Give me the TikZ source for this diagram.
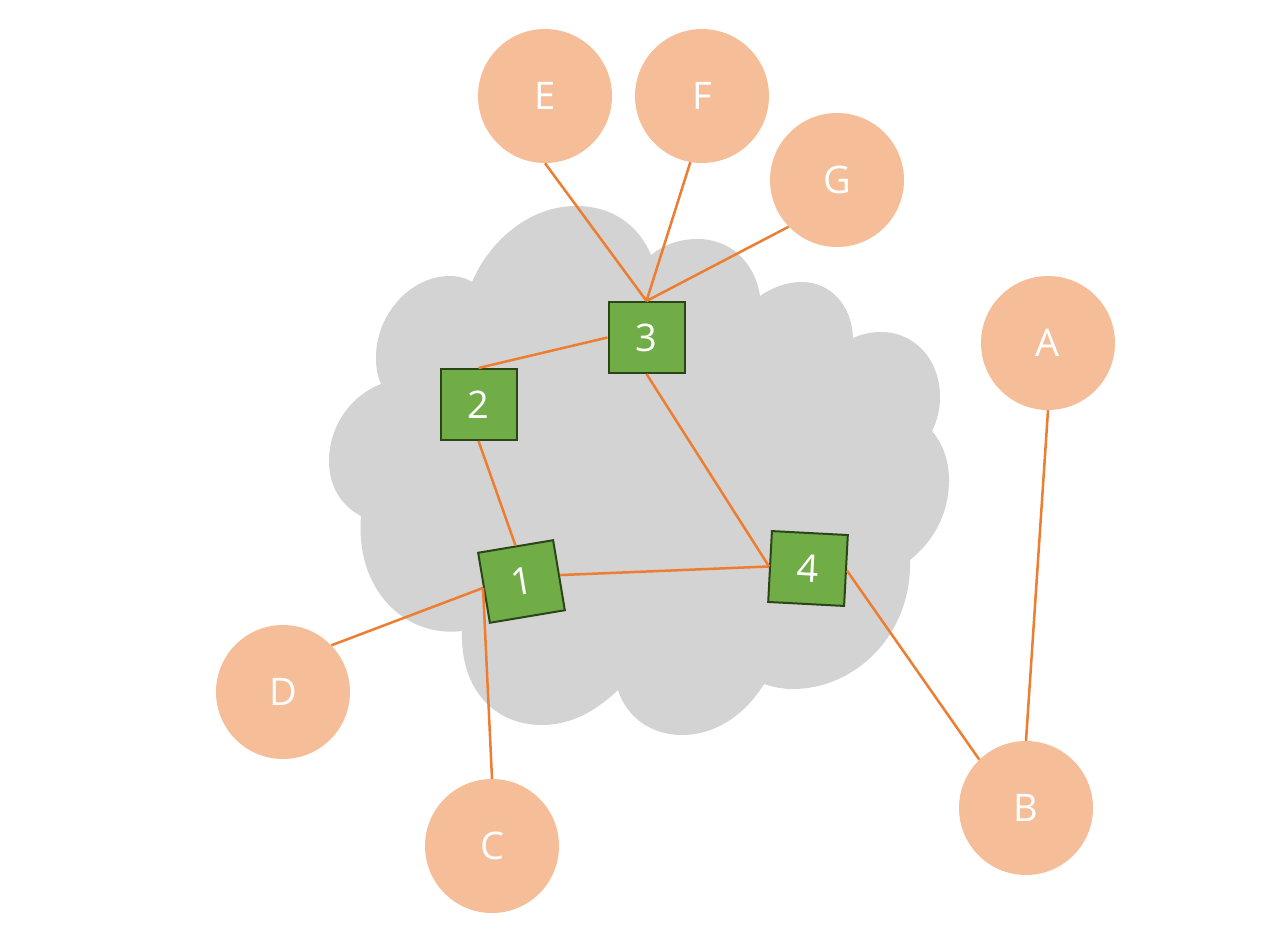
\documentclass[tikz,border=0pt]{standalone}
\usepackage{fontspec}
\setmainfont{Open Sans}
\definecolor{peach}{HTML}{F6BE98}
\definecolor{leaf}{HTML}{70AD47}
\definecolor{leafdark}{HTML}{2B4519}
\definecolor{wire}{HTML}{ED7D31}
\definecolor{cloudgray}{HTML}{D3D3D3}
\tikzset{
  host/.style={circle, fill=peach, minimum size=134pt, inner sep=0pt, text=white, font=\fontsize{38}{38}\selectfont},
  router/.style={rectangle, fill=leaf, draw=leafdark, line width=2pt, minimum width=76pt, minimum height=71pt, inner sep=0pt, text=white, font=\fontsize{38}{38}\selectfont},
  link/.style={draw=wire, line width=2.5pt},
}
\begin{document}
\begin{tikzpicture}[x=1pt,y=-1pt]
\useasboundingbox (0,0) rectangle (1287,929);
% cloud
\fill[cloudgray] (472,282)
  .. controls (490,240) and (530,206) .. (576,206)
  .. controls (615,206) and (640,228) .. (651,255)
  .. controls (665,244) and (680,239) .. (698,239)
  .. controls (730,239) and (755,262) .. (760,296)
  .. controls (773,287) and (787,282) .. (802,282)
  .. controls (830,282) and (852,305) .. (853,338)
  .. controls (862,334) and (871,332) .. (881,332)
  .. controls (915,332) and (940,360) .. (940,397)
  .. controls (940,410) and (937,421) .. (932,431)
  .. controls (943,444) and (949,461) .. (949,480)
  .. controls (949,512) and (935,540) .. (910,560)
  .. controls (912,635) and (855,689) .. (793,689)
  .. controls (782,689) and (773,687) .. (764,684)
  .. controls (745,715) and (715,735) .. (682,735)
  .. controls (650,735) and (626,716) .. (618,690)
  .. controls (595,712) and (570,725) .. (542,725)
  .. controls (495,725) and (460,690) .. (462,631)
  .. controls (405,638) and (355,590) .. (361,516)
  .. controls (340,505) and (329,485) .. (329,461)
  .. controls (329,425) and (352,395) .. (381,384)
  .. controls (377,375) and (376,366) .. (376,357)
  .. controls (376,315) and (410,276) .. (450,276)
  .. controls (458,276) and (466,278) .. (472,282) -- cycle;
% hosts
\node[host] (E) at (545,96) {E};
\node[host] (F) at (702,96) {F};
\node[host] (G) at (837,180) {G};
\node[host] (A) at (1048,343) {A};
\node[host] (B) at (1026,808) {B};
\node[host] (C) at (492,846) {C};
\node[host] (D) at (283,692) {D};
% routers
\node[router] (r3) at (646.5,337.5) {3};
\node[router] (r2) at (478.5,404.5) {2};
\node[router, rotate=9.5] (r1) at (521.5,581.5) {1};
\node[router, rotate=-3] (r4) at (808,568.5) {4};
% links
\draw[link] (E.south) -- (r3.north);
\draw[link] (F.260) -- (r3.north);
\draw[link] (G.224) -- (r3.north);
\draw[link] (r3.west) -- (r2.north);
\draw[link] (r3.south) -- (r4.west);
\draw[link] (r2.south) -- (r1.north);
\draw[link] (r1.east) -- (r4.west);
\draw[link] (r1.west) -- (D.44);
\draw[link] (r1.west) -- (C.north);
\draw[link] (r4.east) -- (B.134);
\draw[link] (A.south) -- (B.north);
\end{tikzpicture}
\end{document}
